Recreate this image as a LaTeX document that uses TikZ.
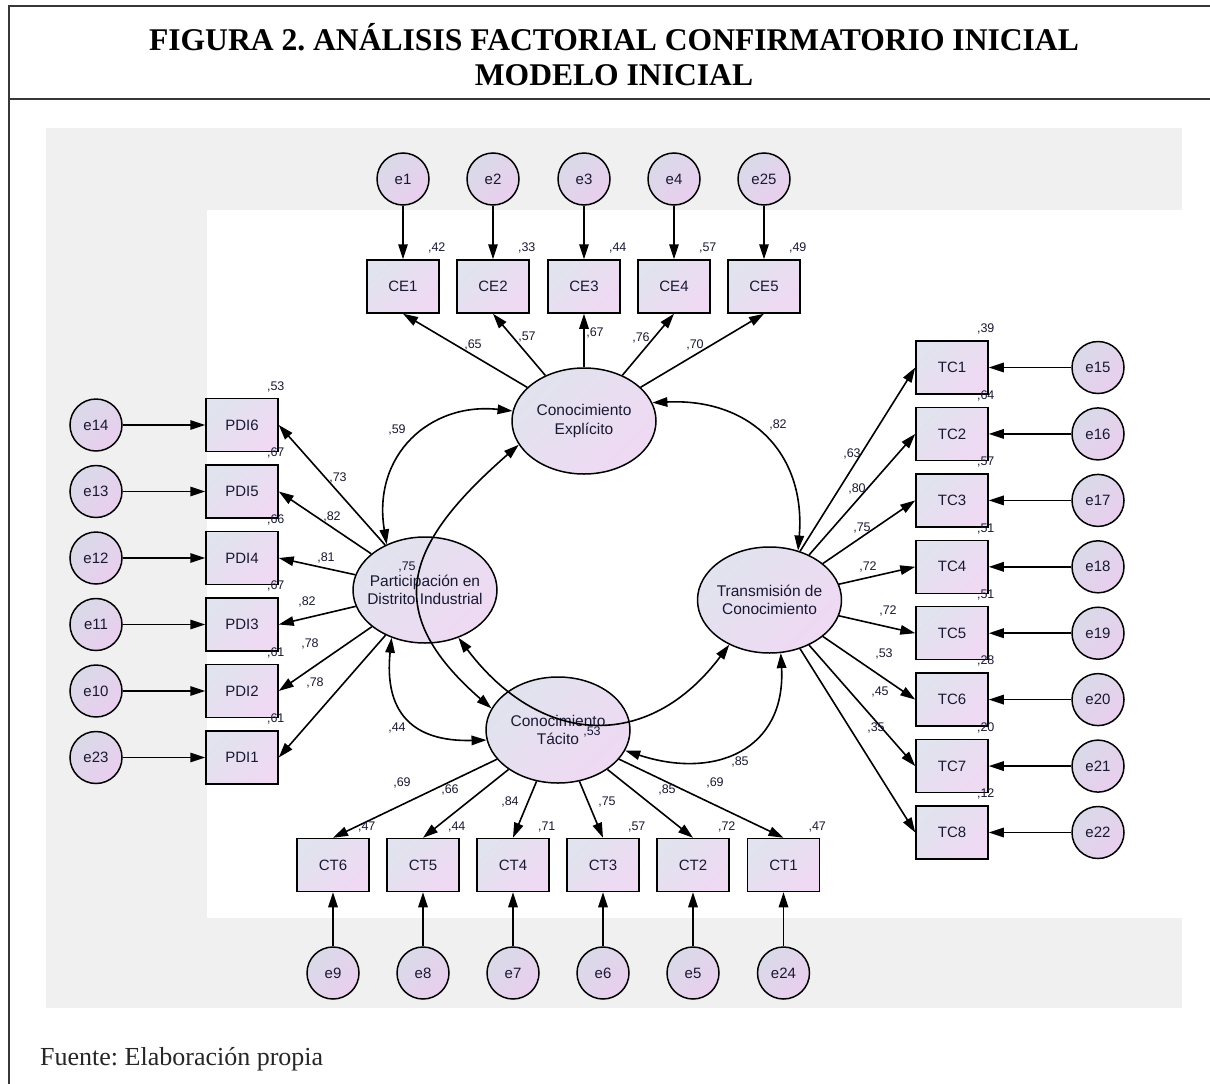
\documentclass[tikz,border=0pt]{standalone}
\usepackage{fontspec}
\setmainfont{Liberation Sans}
\newfontfamily\serifrm{Liberation Serif}
\usetikzlibrary{arrows.meta,shapes.geometric}
\definecolor{boxA}{RGB}{225,227,238}
\definecolor{boxB}{RGB}{239,217,243}
\definecolor{cirA}{RGB}{217,218,232}
\definecolor{cirB}{RGB}{233,206,238}
\definecolor{bggray}{RGB}{240,240,240}
\definecolor{txt}{RGB}{25,25,50}
\definecolor{framec}{RGB}{55,55,55}
\frenchspacing
\tikzset{
 obsbox/.style={rectangle, draw=black, line width=1.5pt, minimum width=72pt, minimum height=53pt,
   top color=boxA, bottom color=boxB, shading angle=45, inner sep=0pt,
   font=\fontsize{15}{18}\selectfont, text=txt},
 errc/.style={circle, draw=black, line width=1.5pt, minimum size=52pt,
   top color=cirA, bottom color=cirB, shading angle=45, inner sep=0pt,
   font=\fontsize{15}{18}\selectfont, text=txt},
 latent/.style={ellipse, draw=black, line width=1.5pt, minimum width=144pt, minimum height=106pt,
   inner sep=0pt, top color=boxA, bottom color=boxB, shading angle=45},
 lattext/.style={align=center, inner sep=0pt, font=\fontsize{15.5}{18.5}\selectfont, text=txt},
 num/.style={font=\fontsize{12.5}{14}\selectfont, text=txt, inner sep=0pt},
 ar/.style={line width=1.6pt, -{Triangle[length=15pt,width=9.5pt]}},
 cov/.style={line width=1.6pt, {Triangle[length=15pt,width=9.5pt]}-{Triangle[length=15pt,width=9.5pt]}},
}
\begin{document}
\begin{tikzpicture}[x=1pt,y=-1pt]
\useasboundingbox (0,0) rectangle (1210,1084);
% frame
\draw[framec, line width=1.3pt] (1210,6) -- (9,6) -- (9,1084);
\draw[framec, line width=1.3pt] (9,99) -- (1210,99);
\node[font=\serifrm\bfseries\fontsize{31.6}{35}\selectfont, align=center, inner sep=0pt] (title) at (614,54.5)
  {FIGURA 2. ANÁLISIS FACTORIAL CONFIRMATORIO INICIAL\\MODELO INICIAL};
\node[font=\serifrm\fontsize{26}{30}\selectfont, anchor=base west, inner sep=0pt, text=black!85] (fuente) at (40,1065)
  {Fuente: Elaboración propia};
% backgrounds
\fill[bggray] (46,128) rectangle (1182,1008);
\fill[white] (207,210) rectangle (1182,918);
% latent variables
\node[latent] (CE) at (584,421) {};
\node[lattext] (CEt) at (CE) {Conocimiento\\Explícito};
\node[latent] (PDI) at (425,590) {};
\node[lattext] (PDIt) at (PDI) {Participación en\\Distrito Industrial};
\node[latent] (TC) at (769.5,600) {};
\node[lattext] (TCt) at (TC) {Transmisión de\\Conocimiento};
\node[latent] (CT) at (558,730) {};
\node[lattext] (CTt) at (CT) {Conocimiento\\Tácito};
% CE indicators
\foreach \i/\x/\e/\r in {1/403/e1/42, 2/493/e2/33, 3/584/e3/44, 4/674/e4/57, 5/764/e25/49}{
  \node[obsbox] (CE\i) at (\x,286.5) {CE\i};
  \node[errc] (E\e) at (\x,179) {\e};
  \draw[ar] (E\e) -- (CE\i);
  \draw[ar] (CE) -- (CE\i.south);
  \path (CE\i.north east) ++(-3,-11) node[num] {,\r};
}
% PDI indicators
\foreach \i/\y/\e/\r in {6/425/e14/53, 5/491.5/e13/67, 4/558/e12/66, 3/624.5/e11/67, 2/691/e10/61, 1/757.5/e23/61}{
  \node[obsbox] (PDI\i) at (242,\y) {PDI\i};
  \node[errc] (E\e) at (96,\y) {\e};
  \draw[ar] (E\e) -- (PDI\i);
  \draw[ar] (PDI) -- (PDI\i.east);
  \path (PDI\i.north east) ++(-3,-11) node[num] {,\r};
}
% TC indicators
\foreach \i/\y/\e/\r in {1/367.5/e15/39, 2/433.9/e16/64, 3/500.4/e17/57, 4/566.8/e18/51, 5/633.2/e19/51, 6/699.6/e20/28, 7/766.1/e21/20, 8/832.5/e22/12}{
  \node[obsbox] (TC\i) at (952,\y) {TC\i};
  \node[errc] (E\e) at (1098,\y) {\e};
  \draw[ar] (E\e) -- (TC\i);
  \draw[ar] (TC) -- (TC\i.west);
  \path (TC\i.north east) ++(-3,-11) node[num] {,\r};
}
% CT indicators
\foreach \i/\x/\e/\r in {6/333/e9/47, 5/423/e8/44, 4/513/e7/71, 3/603/e6/57, 2/693/e5/72, 1/783.5/e24/47}{
  \node[obsbox] (CT\i) at (\x,865) {CT\i};
  \node[errc] (E\e) at (\x,973) {\e};
  \draw[ar] (E\e) -- (CT\i);
  \draw[ar] (CT) -- (CT\i.north);
  \path (CT\i.north east) ++(-3,-11) node[num] {,\r};
}
% covariances
\draw[cov] (CE.172) .. controls (430,402) and (372,455) .. (PDI.130);
\draw[cov] (CE.15) .. controls (752,398) and (806,455) .. (TC.60);
\draw[cov] (PDI.235) .. controls (384,712) and (412,742) .. (CT.188);
\draw[cov] (CT.343) .. controls (715,780) and (786,750) .. (TC.282);
\draw[cov] (CE.200) .. controls (406.5,543) and (378.5,610) .. (CT.162);
\draw[cov] (PDI.305) .. controls (540,746) and (648,753) .. (TC.228);
% loading labels
\node[num] (l1) at (473,345) {,65};
\node[num] (l2) at (527,337) {,57};
\node[num] (l3) at (595,333) {,67};
\node[num] (l4) at (641,338) {,76};
\node[num] (l5) at (695,345) {,70};
\node[num] (p6) at (338,478) {,73};
\node[num] (p5) at (332,517) {,82};
\node[num] (p4) at (326,558) {,81};
\node[num] (p3) at (307,602) {,82};
\node[num] (p2) at (310,644) {,78};
\node[num] (p1) at (315,683) {,78};
\node[num] (t1) at (852,454) {,63};
\node[num] (t2) at (857,489) {,80};
\node[num] (t3) at (862,528) {,75};
\node[num] (t4) at (868,567) {,72};
\node[num] (t5) at (888,611) {,72};
\node[num] (t6) at (884,654) {,53};
\node[num] (t7) at (880,692) {,45};
\node[num] (t8) at (876,728) {,35};
\node[num] (c6) at (402,783) {,69};
\node[num] (c5) at (450,790) {,66};
\node[num] (c4) at (510,802) {,84};
\node[num] (c3) at (607,802) {,75};
\node[num] (c2) at (667,790) {,85};
\node[num] (c1) at (715,783) {,69};
\node[num] (v1) at (397,430) {,59};
\node[num] (v2) at (778,425) {,82};
\node[num] (v3) at (397,728) {,44};
\node[num] (v4) at (740,762) {,85};
\node[num] (r1) at (407,567) {,75};
\node[num] (r2) at (592,732) {,53};
\end{tikzpicture}
\end{document}
